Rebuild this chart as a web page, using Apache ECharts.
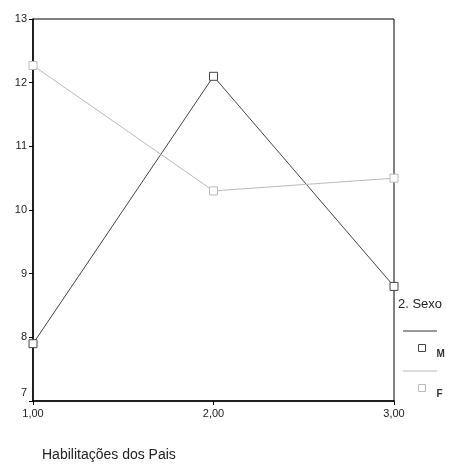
<!DOCTYPE html>
<html><head><meta charset="utf-8">
<script src="https://cdn.jsdelivr.net/npm/echarts@6/dist/echarts.min.js"></script>
<style>html,body{margin:0;padding:0;background:#fff}#c{width:459px;height:466px}</style>
</head><body><div id="c"></div>
<script>
const categories = [1, 2, 3];
const seriesM = [7.9, 12.1, 8.8];
const seriesF = [12.27, 10.3, 10.5];
const yTicks = [7, 8, 9, 10, 11, 12, 13];
const xTitle = 'Habilitações dos Pais';
const legendTitle = '2. Sexo';

const chart = echarts.init(document.getElementById('c'));
const font = 'Liberation Sans, Arial, sans-serif';
const legendBase = {
  orient: 'vertical', itemWidth: 7, itemHeight: 7, icon: 'rect',
  itemStyle: { color: '#fff', borderWidth: 1 },
  formatter: n => '{t|' + n + '}',
  textStyle: {
    fontFamily: font, fontSize: 10, fontWeight: 'bold', color: '#333',
    rich: { t: { fontFamily: font, fontSize: 10, fontWeight: 'bold', color: '#333', padding: [13, 0, 0, 6] } }
  }
};
chart.setOption({
  animation: false,
  backgroundColor: '#fff',
  grid: { left: 33, right: 65, top: 19, bottom: 65, show: true, borderColor: '#000', borderWidth: 1 },
  xAxis: {
    type: 'value', min: 1, max: 3, interval: 1,
    axisLine: { lineStyle: { color: '#000', width: 1.5 } },
    axisTick: { show: true, length: 4, lineStyle: { color: '#000' } },
    splitLine: { show: false },
    axisLabel: { color: '#222', fontFamily: font, fontSize: 11, margin: 7, formatter: v => v.toFixed(2).replace('.', ',') }
  },
  yAxis: {
    type: 'value', min: yTicks[0], max: yTicks[yTicks.length - 1], interval: 1,
    axisLine: { show: true, lineStyle: { color: '#000', width: 1.5 } },
    axisTick: { show: true, length: 4, lineStyle: { color: '#000' } },
    splitLine: { show: false },
    axisLabel: {
      color: '#222', fontFamily: font, fontSize: 11, margin: 6,
      formatter: v => v === yTicks[0] ? '{low|' + v + '}' : String(v),
      rich: { low: { fontFamily: font, fontSize: 11, color: '#222', padding: [0, 0, 16, 0] } }
    }
  },
  legend: [
    Object.assign({ data: ['M'], left: 413, top: 339 }, legendBase),
    Object.assign({ data: ['F'], left: 413, top: 379 }, legendBase)
  ],
  graphic: [
    { type: 'text', left: 398, top: 298, style: { text: legendTitle, font: '13px ' + font, fill: '#222' } },
    { type: 'line', shape: { x1: 403, y1: 331, x2: 437, y2: 331 }, style: { stroke: '#333', lineWidth: 1 } },
    { type: 'line', shape: { x1: 403, y1: 371, x2: 437, y2: 371 }, style: { stroke: '#bbb', lineWidth: 1 } },
    { type: 'text', left: 42, top: 448, style: { text: xTitle, font: '14px ' + font, fill: '#222' } }
  ],
  series: [
    { name: 'M', type: 'line', data: categories.map((c, i) => [c, seriesM[i]]),
      symbol: 'rect', symbolSize: 8, color: '#444',
      lineStyle: { color: '#444', width: 1 }, itemStyle: { color: '#fff', borderColor: '#444', borderWidth: 1 } },
    { name: 'F', type: 'line', data: categories.map((c, i) => [c, seriesF[i]]),
      symbol: 'rect', symbolSize: 8, color: '#bbb',
      lineStyle: { color: '#bbb', width: 1 }, itemStyle: { color: '#fff', borderColor: '#bbb', borderWidth: 1 } }
  ]
});
</script></body></html>
